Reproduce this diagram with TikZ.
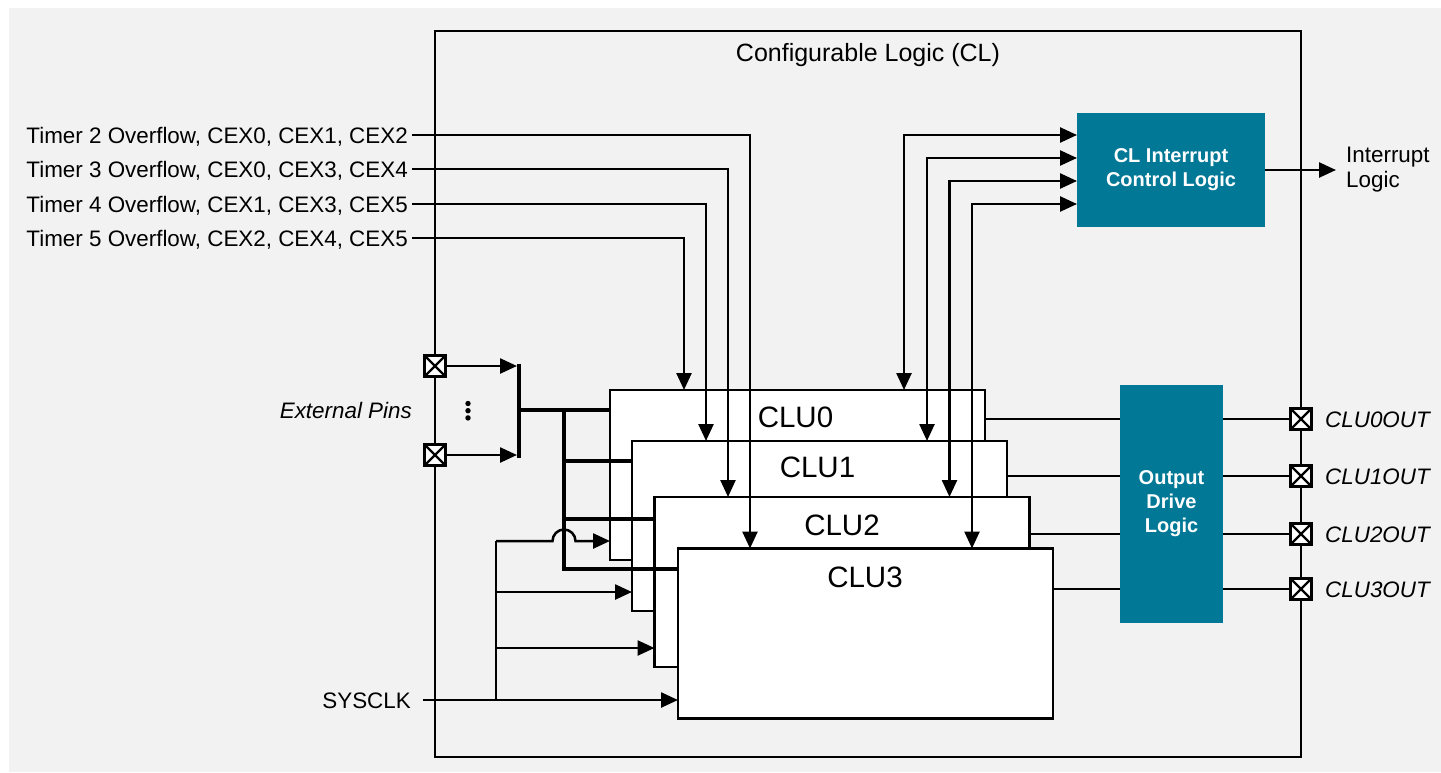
\documentclass[tikz,border=0pt]{standalone}
\usepackage{fontspec}
\setmainfont{Liberation Sans}
\usetikzlibrary{arrows.meta,calc}
\definecolor{bggray}{HTML}{F2F2F2}
\definecolor{siteal}{HTML}{007896}
\tikzset{
  wire/.style={line width=2.5pt},
  arr/.style={wire,-{Triangle[length=17pt,width=15pt]}},
  darr/.style={wire,{Triangle[length=17pt,width=15pt]}-{Triangle[length=17pt,width=15pt]}},
  bus/.style={line width=4.8pt},
  clubox/.style={draw, line width=2.8pt, fill=white, minimum width=375pt, minimum height=170pt, inner sep=0pt, outer sep=0pt},
  tealbox/.style={fill=siteal, inner sep=0pt, outer sep=0pt, text=white, font=\fontsize{20}{24}\selectfont\bfseries, align=center},
  pin/.style={draw, line width=3pt, fill=white, minimum size=21pt, inner sep=0pt, outer sep=0pt,
    path picture={\draw[line width=2.2pt] (path picture bounding box.south west) -- (path picture bounding box.north east)
      (path picture bounding box.north west) -- (path picture bounding box.south east);}},
  lbl/.style={font=\fontsize{22.4}{25}\selectfont, inner xsep=4pt, inner ysep=0pt, text height=16pt, text depth=0pt},
  ilbl/.style={lbl, font=\fontsize{22.4}{25}\selectfont\itshape},
  clulbl/.style={font=\fontsize{29.5}{33}\selectfont, inner sep=0pt, text height=21pt, text depth=0pt},
}
\begin{document}
\begin{tikzpicture}[x=1pt,y=-1pt]
\useasboundingbox (0,0) rectangle (1441,772);
\fill[bggray] (9,8) rectangle (1441,772);

% CL boundary
\node[draw, line width=2.6pt, minimum width=866pt, minimum height=726pt, inner sep=0pt, outer sep=0pt] (cl) at (868,394) {};
\node[font=\fontsize{25}{28}\selectfont] (cltitle) at (868,55) {Configurable Logic (CL)};

% pins
\node[pin] (ep0) at (435,366) {};
\node[pin] (ep1) at (435,455) {};
\node[pin] (p0) at (1301,419) {};
\node[pin] (p1) at (1301,476) {};
\node[pin] (p2) at (1301,534) {};
\node[pin] (p3) at (1301,589) {};

% CLU boxes
\node[clubox] (clu0) at (797.5,475) {};
\node[clubox] (clu1) at (819.5,526) {};
\node[clubox] (clu2) at (842,582) {};
\node[clubox] (clu3) at (865.5,633.5) {};
\node[clulbl] (clu0t) at ($(clu0.north)+(-2,27)$) {CLU0};
\node[clulbl] (clu1t) at ($(clu1.north)+(-2,26)$) {CLU1};
\node[clulbl] (clu2t) at ($(clu2.north)+(0,28)$) {CLU2};
\node[clulbl] (clu3t) at ($(clu3.north)+(-0.5,28.5)$) {CLU3};

% teal blocks
\node[tealbox, minimum width=188pt, minimum height=114pt] (cli) at (1171,170) {CL Interrupt\\Control Logic};
\node[tealbox, minimum width=103pt, minimum height=238pt] (odl) at (1171.5,504) {Output\\Drive\\Logic};

% timer inputs
\node[lbl, anchor=east] (t2) at (412,135) {Timer 2 Overflow, CEX0, CEX1, CEX2};
\node[lbl, anchor=east] (t3) at (412,169) {Timer 3 Overflow, CEX0, CEX3, CEX4};
\node[lbl, anchor=east] (t4) at (412,204) {Timer 4 Overflow, CEX1, CEX3, CEX5};
\node[lbl, anchor=east] (t5) at (412,238) {Timer 5 Overflow, CEX2, CEX4, CEX5};
\draw[arr] (t2.east) -| ($(clu3.north west)+(72,0)$);
\draw[arr] (t3.east) -| ($(clu2.north west)+(73.5,0)$);
\draw[arr] (t4.east) -| ($(clu1.north west)+(74,0)$);
\draw[arr] (t5.east) -| ($(clu0.north west)+(74,0)$);

% interrupt links
\draw[darr] ($(clu0.north west)+(294,0)$) |- ($(cli.west)+(0,-35)$);
\draw[darr] ($(clu1.north west)+(295,0)$) |- ($(cli.west)+(0,-12)$);
\draw[darr] ($(clu2.north west)+(295,0)$) |- ($(cli.west)+(0,11)$);
\draw[darr] ($(clu3.north west)+(294,0)$) |- ($(cli.west)+(0,34)$);
\node[font=\fontsize{22.4}{25}\selectfont, anchor=west, align=left, inner sep=0pt] (intl) at (1346,170) {Interrupt\\Logic};
\coordinate (intend) at (1336,170);
\draw[arr] (cli.east) -- (intend);

% outputs
\draw[wire] (clu0.east |- p0) -- (odl.west |- p0);
\draw[wire] (clu1.east |- p1) -- (odl.west |- p1);
\draw[wire] (clu2.east |- p2) -- (odl.west |- p2);
\draw[wire] (clu3.east |- p3) -- (odl.west |- p3);
\draw[wire] (odl.east |- p0) -- (p0.west);
\draw[wire] (odl.east |- p1) -- (p1.west);
\draw[wire] (odl.east |- p2) -- (p2.west);
\draw[wire] (odl.east |- p3) -- (p3.west);
\node[ilbl, anchor=west] (p0t) at (1321,419) {CLU0OUT};
\node[ilbl, anchor=west] (p1t) at (1321,476) {CLU1OUT};
\node[ilbl, anchor=west] (p2t) at (1321,534) {CLU2OUT};
\node[ilbl, anchor=west] (p3t) at (1321,589) {CLU3OUT};

% external pins bus
\node[ilbl, anchor=east] (extl) at (416,410) {External Pins};
\coordinate (a0) at (517,366);
\coordinate (a1) at (517,455);
\coordinate (bartop) at (519,363.5);
\coordinate (barbot) at (519,457.5);
\coordinate (bm) at (519,410);
\coordinate (bv) at (564,410);
\coordinate (b1) at (564,461);
\coordinate (b2) at (564,519);
\coordinate (b3) at (564,569);
\draw[arr] (ep0.east) -- (a0);
\draw[arr] (ep1.east) -- (a1);
\draw[bus] (bartop) -- (barbot);
\draw[bus] (bm) -- (bm -| clu0.west);
\draw[bus] (bv) -- (b3) -- (b3 -| clu3.west);
\draw[bus] (b1) -- (b1 -| clu1.west);
\draw[bus] (b2) -- (b2 -| clu2.west);
\fill (468,403.5) circle (2.7);
\fill (468,410.7) circle (2.7);
\fill (468,417.9) circle (2.7);

% SYSCLK
\node[lbl, anchor=east, inner xsep=12pt] (sys) at (423,700) {SYSCLK};
\coordinate (sj) at (496,700);
\coordinate (s0) at (496,541);
\coordinate (s1) at (496,592);
\coordinate (s2) at (496,648);
\draw[arr] (sys.east) -- (sys.east -| clu3.west);
\draw[wire] (sj) -- (s0);
\draw[arr] (s0) -- ($(s0 -| bv)+(-11.5,0)$) arc(180:360:11.5) -- (s0 -| clu0.west);
\draw[arr] (s1) -- (s1 -| clu1.west);
\draw[arr] (s2) -- (s2 -| clu2.west);
\end{tikzpicture}
\end{document}
